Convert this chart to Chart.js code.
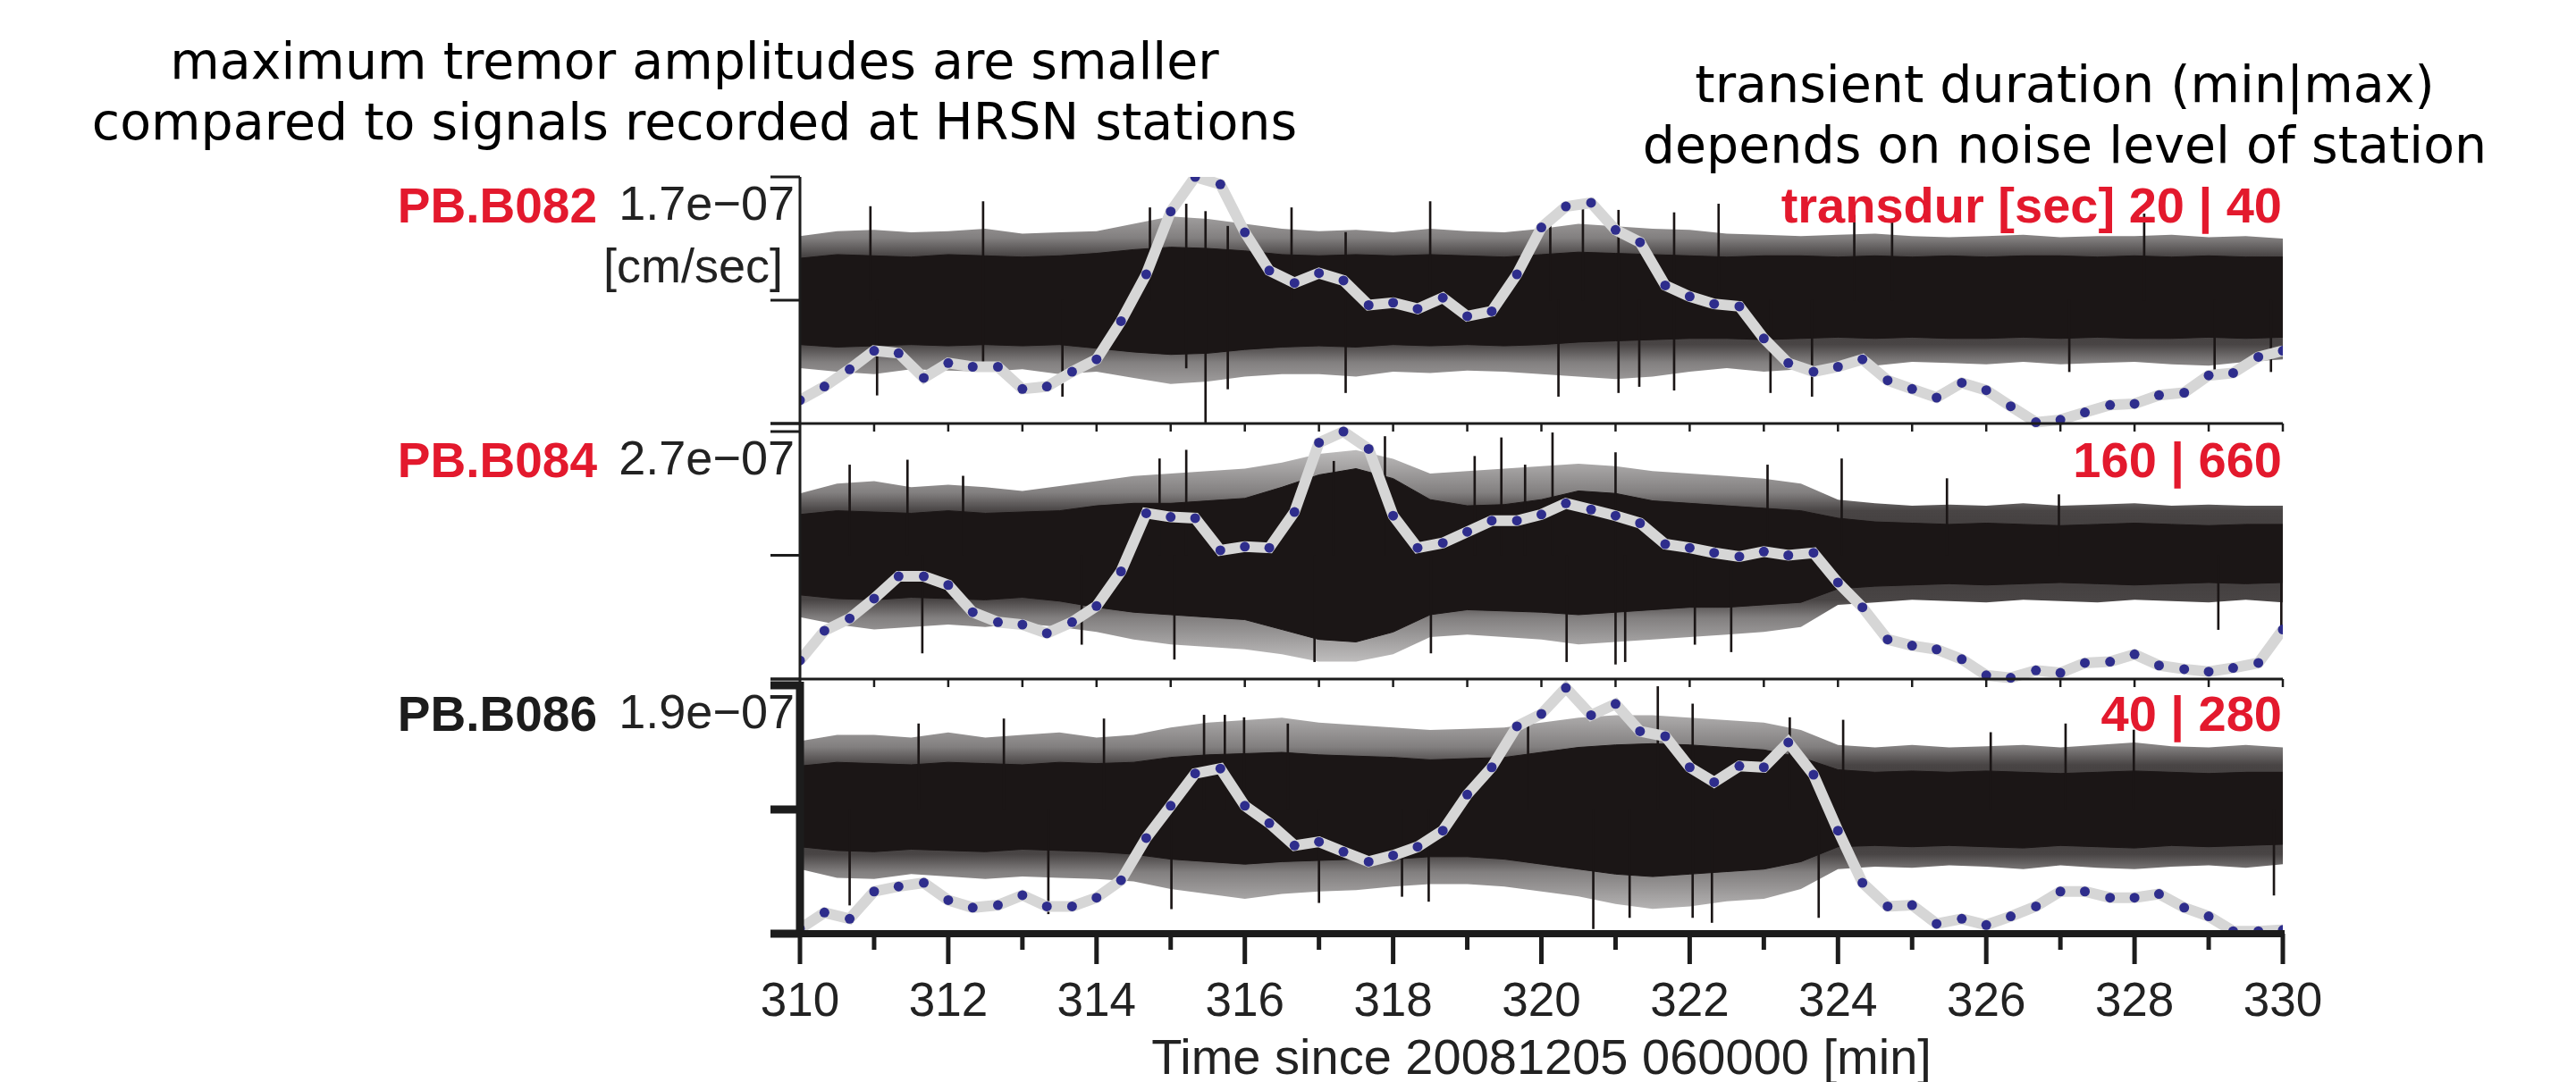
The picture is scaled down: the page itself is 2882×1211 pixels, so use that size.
<!DOCTYPE html>
<html>
<head>
<meta charset="utf-8">
<script src="https://cdn.jsdelivr.net/npm/chart.js@4.4.1/dist/chart.umd.min.js"></script>
<style>
  html, body { margin: 0; padding: 0; background: #fff; }
  #wrap { position: relative; width: 2882px; height: 1211px; overflow: hidden; }
  #tremor { position: absolute; left: 0; top: 0; }
  .note {
    position: absolute;
    font-family: "DejaVu Sans", sans-serif;
    font-size: 57px;
    line-height: 68px;
    color: #000;
    text-align: center;
    white-space: nowrap;
  }
</style>
</head>
<body>
<div id="wrap">
  <canvas id="tremor" width="2882" height="1211"></canvas>
  <div class="note" style="left:27px; top:34px; width:1500px;">maximum tremor amplitudes are smaller<br>compared to signals recorded at HRSN stations</div>
  <div class="note" style="left:1760px; top:60px; width:1100px;">transient duration (min|max)<br>depends on noise level of station</div>
</div>
<script>
// station labels, top to bottom
const stationNames = ["PB.B082", "PB.B084", "PB.B086"];
const ampLabels = ["1.7e−07", "2.7e−07", "1.9e−07"];
const unitLabel = "[cm/sec]";
const durLabels = ["transdur [sec] 20 | 40", "160 | 660", "40 | 280"];

// envelope (gray curve with dots), one sample every 20 s
const envTimes = [310, 310.33, 310.67, 311, 311.33, 311.67, 312, 312.33, 312.67, 313, 313.33, 313.67,
  314, 314.33, 314.67, 315, 315.33, 315.67, 316, 316.33, 316.67, 317, 317.33, 317.67, 318, 318.33, 318.67,
  319, 319.33, 319.67, 320, 320.33, 320.67, 321, 321.33, 321.67, 322, 322.33, 322.67, 323, 323.33, 323.67,
  324, 324.33, 324.67, 325, 325.33, 325.67, 326, 326.33, 326.67, 327, 327.33, 327.67, 328, 328.33, 328.67,
  329, 329.33, 329.67, 330];
const envB082 = [-0.81, -0.70, -0.56, -0.41, -0.43, -0.63, -0.51, -0.54, -0.54, -0.72, -0.70, -0.58, -0.48,
  -0.17, 0.21, 0.72, 1.00, 0.94, 0.55, 0.24, 0.14, 0.22, 0.16, -0.04, -0.02, -0.07, 0.02, -0.13, -0.09, 0.21,
  0.59, 0.76, 0.79, 0.57, 0.47, 0.12, 0.03, -0.03, -0.05, -0.31, -0.51, -0.58, -0.54, -0.48, -0.65, -0.72,
  -0.79, -0.67, -0.73, -0.86, -0.99, -0.97, -0.91, -0.85, -0.84, -0.77, -0.75, -0.61, -0.59, -0.46, -0.41];
const envB084 = [-0.85, -0.61, -0.51, -0.35, -0.17, -0.17, -0.24, -0.46, -0.54, -0.56, -0.63, -0.54, -0.41,
  -0.13, 0.34, 0.31, 0.30, 0.04, 0.07, 0.06, 0.35, 0.91, 1.00, 0.86, 0.32, 0.06, 0.10, 0.19, 0.28, 0.28, 0.33,
  0.42, 0.37, 0.32, 0.26, 0.09, 0.06, 0.02, -0.01, 0.03, 0.00, 0.02, -0.22, -0.42, -0.68, -0.73, -0.76, -0.84,
  -0.97, -0.99, -0.93, -0.95, -0.87, -0.86, -0.80, -0.89, -0.92, -0.94, -0.91, -0.87, -0.60];
const envB086 = [-0.96, -0.83, -0.88, -0.66, -0.62, -0.59, -0.73, -0.79, -0.77, -0.69, -0.78, -0.78, -0.71,
  -0.57, -0.23, 0.03, 0.29, 0.33, 0.03, -0.11, -0.29, -0.26, -0.34, -0.42, -0.37, -0.30, -0.17, 0.12, 0.34,
  0.67, 0.77, 0.98, 0.76, 0.85, 0.63, 0.59, 0.34, 0.22, 0.35, 0.34, 0.54, 0.28, -0.17, -0.59, -0.78, -0.77,
  -0.92, -0.88, -0.93, -0.86, -0.78, -0.66, -0.66, -0.71, -0.71, -0.68, -0.79, -0.86, -0.98, -0.98, -0.97];

// seismogram amplitude read every 30 s: dense core and hairy fringe
const noiseTimes = [310, 310.5, 311, 311.5, 312, 312.5, 313, 313.5, 314, 314.5, 315, 315.5, 316, 316.5,
  317, 317.5, 318, 318.5, 319, 319.5, 320, 320.5, 321, 321.5, 322, 322.5, 323, 323.5, 324, 324.5, 325,
  325.5, 326, 326.5, 327, 327.5, 328, 328.5, 329, 329.5, 330];

const coreHiB082 = [0.34, 0.37, 0.36, 0.35, 0.37, 0.36, 0.35, 0.36, 0.38, 0.41, 0.43, 0.42, 0.40, 0.37, 0.36,
  0.37, 0.36, 0.37, 0.36, 0.35, 0.37, 0.39, 0.38, 0.37, 0.36, 0.35, 0.36, 0.36, 0.35, 0.36, 0.35, 0.36, 0.35,
  0.36, 0.36, 0.35, 0.36, 0.35, 0.36, 0.35, 0.35];
const coreLoB082 = [-0.36, -0.38, -0.37, -0.36, -0.37, -0.36, -0.37, -0.36, -0.39, -0.42, -0.44, -0.43, -0.40,
  -0.38, -0.37, -0.38, -0.36, -0.37, -0.36, -0.37, -0.36, -0.34, -0.33, -0.32, -0.31, -0.31, -0.32, -0.31,
  -0.30, -0.31, -0.30, -0.31, -0.31, -0.30, -0.31, -0.30, -0.31, -0.31, -0.30, -0.31, -0.30];
const fringeHiB082 = [0.52, 0.56, 0.57, 0.55, 0.56, 0.58, 0.54, 0.55, 0.56, 0.62, 0.68, 0.66, 0.62, 0.58, 0.56,
  0.57, 0.55, 0.58, 0.56, 0.55, 0.58, 0.62, 0.60, 0.58, 0.57, 0.54, 0.53, 0.52, 0.53, 0.54, 0.52, 0.51, 0.52,
  0.53, 0.51, 0.52, 0.52, 0.53, 0.51, 0.52, 0.50];
const fringeLoB082 = [-0.55, -0.58, -0.60, -0.56, -0.57, -0.58, -0.56, -0.60, -0.58, -0.63, -0.68, -0.66, -0.62,
  -0.60, -0.60, -0.62, -0.58, -0.59, -0.57, -0.58, -0.60, -0.62, -0.64, -0.62, -0.58, -0.55, -0.58, -0.56,
  -0.52, -0.53, -0.50, -0.51, -0.52, -0.50, -0.52, -0.51, -0.50, -0.52, -0.53, -0.50, -0.48];

const coreHiB084 = [0.33, 0.36, 0.35, 0.34, 0.36, 0.34, 0.35, 0.36, 0.40, 0.42, 0.42, 0.44, 0.46, 0.55, 0.65,
  0.70, 0.62, 0.45, 0.40, 0.41, 0.45, 0.52, 0.50, 0.44, 0.42, 0.40, 0.38, 0.36, 0.30, 0.27, 0.26, 0.25, 0.26,
  0.25, 0.24, 0.25, 0.26, 0.25, 0.24, 0.25, 0.25];
const coreLoB084 = [-0.32, -0.35, -0.36, -0.34, -0.35, -0.36, -0.34, -0.37, -0.42, -0.46, -0.48, -0.50, -0.52,
  -0.60, -0.68, -0.70, -0.62, -0.48, -0.44, -0.45, -0.46, -0.48, -0.46, -0.44, -0.42, -0.42, -0.40, -0.38,
  -0.27, -0.25, -0.24, -0.23, -0.24, -0.23, -0.22, -0.23, -0.24, -0.23, -0.22, -0.23, -0.22];
const fringeHiB084 = [0.50, 0.58, 0.60, 0.55, 0.57, 0.55, 0.52, 0.56, 0.60, 0.64, 0.66, 0.68, 0.70, 0.75, 0.82,
  0.85, 0.78, 0.66, 0.68, 0.70, 0.72, 0.74, 0.72, 0.68, 0.66, 0.64, 0.62, 0.58, 0.45, 0.42, 0.40, 0.41, 0.40,
  0.42, 0.40, 0.41, 0.42, 0.40, 0.41, 0.40, 0.40];
const fringeLoB084 = [-0.50, -0.56, -0.60, -0.58, -0.56, -0.58, -0.55, -0.58, -0.62, -0.68, -0.72, -0.74, -0.76,
  -0.80, -0.86, -0.86, -0.80, -0.66, -0.64, -0.66, -0.68, -0.72, -0.70, -0.68, -0.66, -0.64, -0.62, -0.58,
  -0.40, -0.38, -0.36, -0.37, -0.38, -0.36, -0.37, -0.38, -0.36, -0.37, -0.38, -0.36, -0.38];

const coreHiB086 = [0.35, 0.38, 0.37, 0.36, 0.38, 0.37, 0.36, 0.38, 0.37, 0.38, 0.42, 0.44, 0.45, 0.46, 0.44,
  0.43, 0.42, 0.40, 0.41, 0.42, 0.46, 0.50, 0.52, 0.53, 0.52, 0.50, 0.48, 0.42, 0.32, 0.30, 0.31, 0.30, 0.31,
  0.30, 0.29, 0.30, 0.31, 0.30, 0.29, 0.30, 0.30];
const coreLoB086 = [-0.30, -0.33, -0.34, -0.32, -0.33, -0.34, -0.32, -0.33, -0.34, -0.36, -0.40, -0.42, -0.44,
  -0.42, -0.41, -0.40, -0.40, -0.38, -0.38, -0.40, -0.44, -0.48, -0.52, -0.54, -0.52, -0.50, -0.48, -0.42,
  -0.30, -0.29, -0.30, -0.29, -0.30, -0.31, -0.29, -0.30, -0.31, -0.29, -0.30, -0.29, -0.28];
const fringeHiB086 = [0.55, 0.60, 0.60, 0.58, 0.62, 0.58, 0.60, 0.62, 0.58, 0.60, 0.66, 0.70, 0.72, 0.74, 0.70,
  0.68, 0.66, 0.64, 0.65, 0.66, 0.70, 0.74, 0.76, 0.76, 0.74, 0.72, 0.70, 0.64, 0.52, 0.50, 0.52, 0.50, 0.51,
  0.52, 0.50, 0.52, 0.54, 0.51, 0.50, 0.52, 0.50];
const fringeLoB086 = [-0.48, -0.55, -0.56, -0.52, -0.54, -0.56, -0.54, -0.55, -0.56, -0.58, -0.64, -0.68, -0.72,
  -0.68, -0.66, -0.65, -0.62, -0.60, -0.60, -0.62, -0.66, -0.70, -0.76, -0.80, -0.78, -0.74, -0.72, -0.64,
  -0.48, -0.46, -0.47, -0.45, -0.46, -0.48, -0.45, -0.47, -0.48, -0.46, -0.45, -0.47, -0.44];

// single large excursions (time, top, bottom)
const spikeTimesB082 = [310.95, 311.04, 312.47, 313.54, 314.72, 315.21, 315.47, 315.77, 316.63, 317.36, 318.5,
  320.12, 320.23, 320.56, 321.04, 321.32, 321.79, 322.39, 323.09, 323.65, 324.22, 324.73, 327.12, 328.13,
  329.08, 329.84];
const spikeHiB082 = [0.76, 0, 0.80, 0, 0.75, 0.78, 0.72, 0.60, 0.75, 0.55, 0.80, 0.68, 0, 0.78, 0.73, 0, 0.71,
  0.78, 0, 0, 0.69, 0.65, 0, 0.70, 0, 0];
const spikeLoB082 = [0, -0.77, -0.50, -0.78, 0, -0.55, -0.99, -0.72, 0, -0.75, 0, 0, -0.78, 0, -0.75, -0.70,
  -0.73, 0, -0.75, -0.78, 0, 0, -0.58, 0, -0.60, -0.58];

const spikeTimesB084 = [310.67, 311.45, 311.65, 312.2, 313.8, 314.85, 315.05, 315.21, 316.94, 317.2, 317.89,
  318.51, 319.1, 319.46, 319.78, 320.15, 320.34, 321.0, 321.13, 322.07, 322.56, 323.05, 324.05, 325.47,
  326.98, 329.13, 329.98];
const spikeHiB084 = [0.73, 0.77, 0, 0.64, 0, 0.78, 0, 0.85, 0, 0.76, 0.96, 0, 0.80, 0.95, 0.73, 0.99, 0, 0.83,
  0, 0, 0, 0.73, 0.78, 0.62, 0.49, 0, 0];
const spikeLoB084 = [0, 0, -0.79, 0, -0.72, 0, -0.84, 0, -0.86, 0, 0, -0.79, 0, 0, 0, 0, -0.86, -0.88, -0.86,
  -0.72, -0.78, 0, 0, 0, 0, -0.60, -0.60];

const spikeTimesB086 = [310.67, 311.6, 312.75, 313.35, 314.1, 315.01, 315.45, 315.73, 315.99, 316.58, 317.0,
  318.12, 318.48, 319.82, 320.7, 321.19, 321.57, 322.04, 322.3, 323.35, 323.74, 324.07, 326.06, 327.07,
  327.99, 329.88];
const spikeHiB086 = [0, 0.69, 0.73, 0, 0.73, 0, 0.76, 0.76, 0.74, 0.69, 0, 0, 0, 0.69, 0, 0, 0.99, 0.85, 0,
  0.74, 0, 0.72, 0.62, 0.69, 0.64, 0];
const spikeLoB086 = [-0.77, 0, 0, -0.84, 0, -0.80, 0, 0, 0, 0, -0.75, -0.70, -0.74, 0, -0.96, -0.87, 0, -0.87,
  -0.91, 0, -0.87, 0, 0, 0, 0, -0.69];

const ink = "#1c1c1c";
const trace = "#1b1616";
const red = "#e3192d";
const stationColors = [red, red, ink];
const panelAxes = ["y1", "y2", "y3"];
const chartFont = '"Liberation Sans", Arial, sans-serif';

function pts(ts, vs) {
  return ts.map((t, i) => ({ x: t, y: vs[i] }));
}

// fringe gets darker towards the dense core, like the hairs of the trace
function fringeFill(axis) {
  return (context) => {
    const chart = context.chart;
    const ys = chart.scales[axis];
    if (!chart.chartArea || !ys) return "rgba(27,22,22,0.6)";
    const y0 = ys.getPixelForValue(0.9);
    const y1 = ys.getPixelForValue(-0.9);
    const g = chart.ctx.createLinearGradient(0, y0, 0, y1);
    g.addColorStop(0, "rgba(27,22,22,0.25)");
    g.addColorStop(0.22, "rgba(27,22,22,0.55)");
    g.addColorStop(0.3, "rgba(27,22,22,0.8)");
    g.addColorStop(0.5, "rgba(27,22,22,0.85)");
    g.addColorStop(0.7, "rgba(27,22,22,0.8)");
    g.addColorStop(0.78, "rgba(27,22,22,0.55)");
    g.addColorStop(1, "rgba(27,22,22,0.25)");
    return g;
  };
}

function panelSets(axis, env, coreHi, coreLo, fringeHi, fringeLo, spT, spHi, spLo) {
  return [
    { type: "line", data: pts(noiseTimes, fringeHi), yAxisID: axis, borderWidth: 0, pointRadius: 0,
      fill: "+1", backgroundColor: fringeFill(axis), order: 4 },
    { type: "line", data: pts(noiseTimes, fringeLo), yAxisID: axis, borderWidth: 0, pointRadius: 0,
      fill: false, order: 4 },
    { type: "line", data: pts(noiseTimes, coreHi), yAxisID: axis, borderWidth: 1, borderColor: trace,
      pointRadius: 0, fill: "+1", backgroundColor: trace, order: 3 },
    { type: "line", data: pts(noiseTimes, coreLo), yAxisID: axis, borderWidth: 1, borderColor: trace,
      pointRadius: 0, fill: false, order: 3 },
    { type: "bar", data: spT.map((t, i) => ({ x: t, y: [spLo[i], spHi[i]] })), yAxisID: axis,
      backgroundColor: trace, barThickness: 2, grouped: false, order: 2 },
    { type: "line", data: pts(envTimes, env), yAxisID: axis, borderColor: "#d6d6d6", borderWidth: 12,
      tension: 0, pointRadius: 5.5, pointBackgroundColor: "#2e2d8c", pointBorderWidth: 0, fill: false, order: 1 }
  ];
}

const datasets = [
  ...panelSets("y1", envB082, coreHiB082, coreLoB082, fringeHiB082, fringeLoB082, spikeTimesB082, spikeHiB082, spikeLoB082),
  ...panelSets("y2", envB084, coreHiB084, coreLoB084, fringeHiB084, fringeLoB084, spikeTimesB084, spikeHiB084, spikeLoB084),
  ...panelSets("y3", envB086, coreHiB086, coreLoB086, fringeHiB086, fringeLoB086, spikeTimesB086, spikeHiB086, spikeLoB086)
];

// axes frame, separators and panel labels
const seismoFrame = {
  id: "seismoFrame",
  afterDatasetsDraw(chart) {
    const { ctx, chartArea: a, scales } = chart;
    const xs = scales.x;
    const seg = (x1, y1, x2, y2, w) => {
      ctx.lineWidth = w;
      ctx.beginPath();
      ctx.moveTo(x1, y1);
      ctx.lineTo(x2, y2);
      ctx.stroke();
    };
    ctx.save();
    ctx.strokeStyle = ink;
    ctx.lineCap = "butt";
    let prevBottom = null;
    panelAxes.forEach((id, k) => {
      const ys = scales[id];
      const top = ys.getPixelForValue(1);
      const mid = ys.getPixelForValue(0);
      const bot = ys.getPixelForValue(-1);
      const heavy = k === 2;
      const w = heavy ? 9 : 3;
      if (heavy) {
        seg(a.left, prevBottom, a.left, top, 3);
        seg(a.left, top - 4, a.left, bot + 4, w);
      } else {
        seg(a.left, prevBottom === null ? top : prevBottom, a.left, bot, w);
      }
      [top, mid, bot].forEach((y) => seg(a.left - 33, y, a.left, y, w));
      if (!heavy) {
        seg(a.left - 33, bot, a.right, bot, 3);
        for (let m = 311; m <= 330; m++) {
          const x = xs.getPixelForValue(m);
          seg(x, bot, x, bot + 9, 2.5);
        }
      }
      prevBottom = bot;
    });

    const yb = scales.y3.getPixelForValue(-1);
    seg(a.left - 4, yb, a.right + 2, yb, 8);
    for (let m = 310; m <= 330; m++) {
      const x = xs.getPixelForValue(m);
      seg(x, yb, x, yb + (m % 2 === 0 ? 34 : 18), 5);
    }

    ctx.textBaseline = "middle";
    ctx.textAlign = "right";
    panelAxes.forEach((id, k) => {
      const top = scales[id].getPixelForValue(1);
      const yMid = top + 36;
      ctx.font = "bold 55px " + chartFont;
      ctx.fillStyle = stationColors[k];
      ctx.fillText(stationNames[k], a.left - 227, yMid);
      ctx.font = "54px " + chartFont;
      ctx.fillStyle = "#222";
      ctx.fillText(ampLabels[k], a.left - 6, yMid - 3);
      if (k === 0) ctx.fillText(unitLabel, a.left - 19, top + 103);
      ctx.font = "bold 56px " + chartFont;
      ctx.fillStyle = red;
      ctx.fillText(durLabels[k], a.right - 1, yMid);
    });
    ctx.restore();
  }
};

new Chart(document.getElementById("tremor"), {
  type: "line",
  data: { datasets },
  options: {
    responsive: false,
    animation: false,
    layout: { padding: { left: 895, right: 328, top: 198, bottom: 0 } },
    plugins: { legend: { display: false }, tooltip: { enabled: false } },
    scales: {
      x: {
        type: "linear",
        position: "bottom",
        min: 310,
        max: 330,
        offset: false,
        afterFit: (scale) => { scale.height = 166; },
        grid: { display: false, drawTicks: false },
        border: { display: false },
        ticks: { stepSize: 2, padding: 46, maxRotation: 0, autoSkip: false, color: "#222",
                 font: { family: chartFont, size: 53 } },
        title: { display: true, text: "Time since 20081205 060000 [min]", color: "#222",
                 font: { family: chartFont, size: 56 }, padding: { top: 0, bottom: -9 } }
      },
      y1: { type: "linear", min: -5.138, max: 1, display: false },
      y2: { type: "linear", min: -3.058, max: 3.058, display: false },
      y3: { type: "linear", min: -1, max: 5.094, display: false }
    }
  },
  plugins: [seismoFrame]
});
</script>
</body>
</html>
